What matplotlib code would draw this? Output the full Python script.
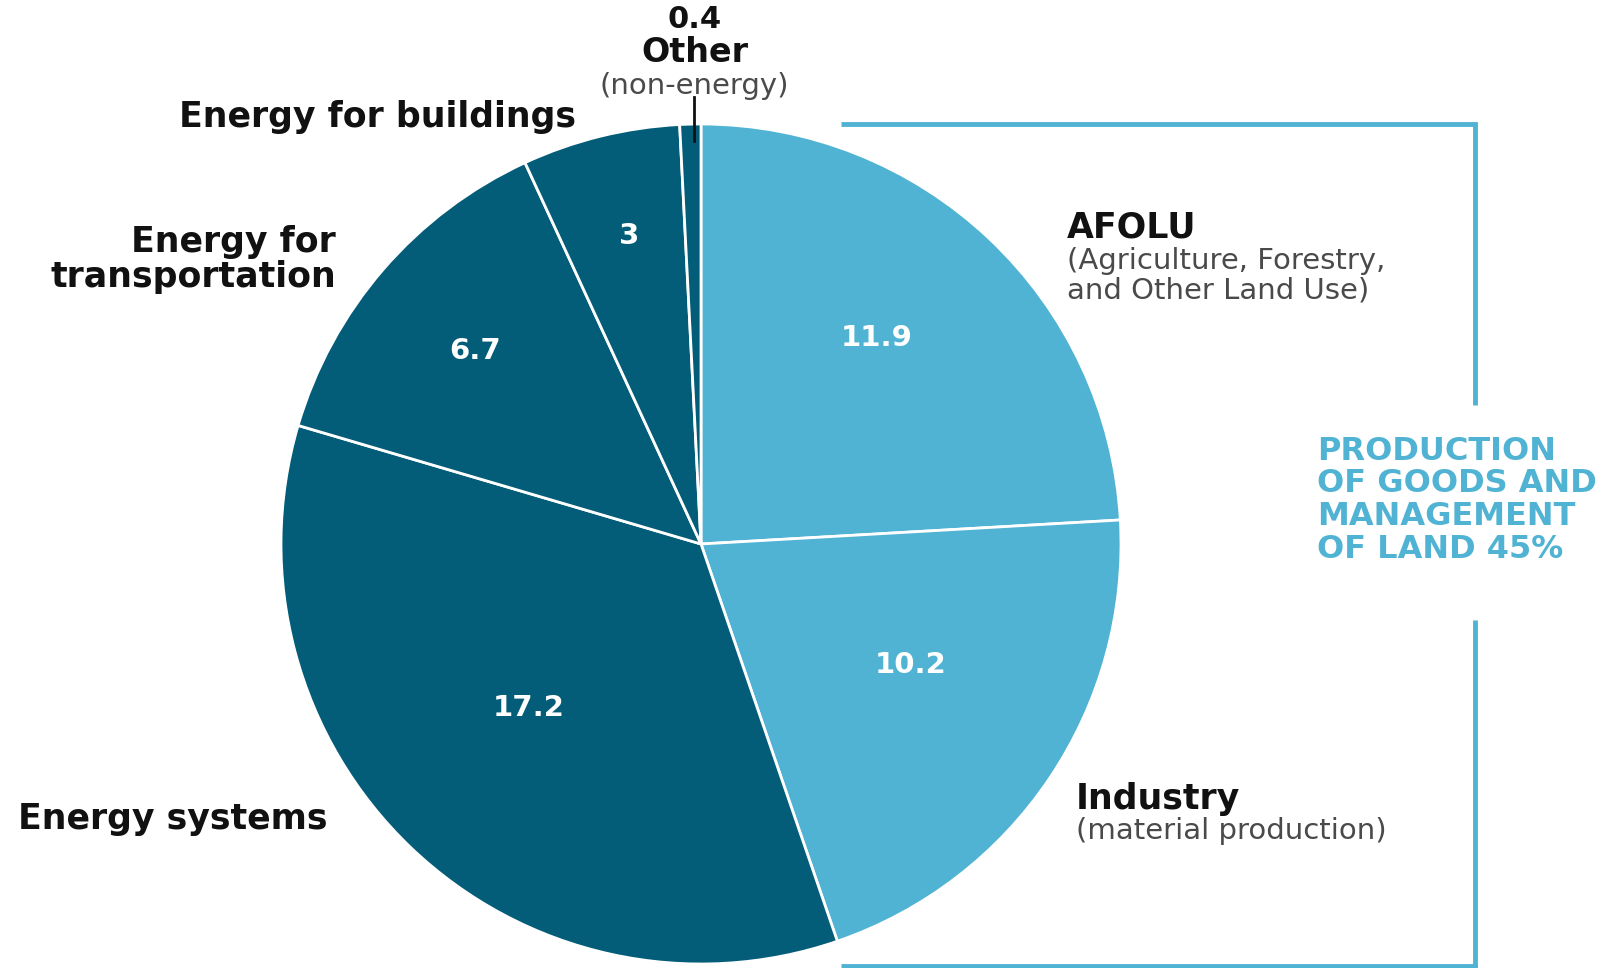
import matplotlib
matplotlib.use("Agg")
import matplotlib.pyplot as plt
import numpy as np

# ---- data ----
categories = ["AFOLU", "Industry", "Energy systems", "Energy for transportation",
              "Energy for buildings", "Other"]
values = [11.9, 10.2, 17.2, 6.7, 3, 0.4]
value_labels = ["11.9", "10.2", "17.2", "6.7", "3", "0.4"]
group_label = ["PRODUCTION", "OF GOODS AND", "MANAGEMENT", "OF LAND 45%"]

LIGHT = "#50B3D3"
DARK = "#035C78"
colors = [LIGHT, LIGHT, DARK, DARK, DARK, DARK]

W, H = 1608, 968
fig = plt.figure(figsize=(W / 100, H / 100), dpi=100)
ax = fig.add_axes([0, 0, 1, 1])

def Y(py):
    return H - py

cx, cy, R = 701, 544, 420
wedges, _ = ax.pie(values, colors=colors, startangle=90, counterclock=False,
                   center=(cx, Y(cy)), radius=R, frame=True,
                   wedgeprops=dict(edgecolor="white", linewidth=2))
ax.set_xlim(0, W)
ax.set_ylim(0, H)
ax.set_aspect("equal")
ax.axis("off")

# inside value labels (radial fraction, angular offset in degrees)
rfrac = [0.645, 0.577, 0.567, 0.707, 0.753]
aoff = [2.9, 4.0, -2.8, 0.3, -0.7]
for w, lab, rf, ao in zip(wedges[:5], value_labels[:5], rfrac, aoff):
    th = np.deg2rad((w.theta1 + w.theta2) / 2 + ao)
    ax.text(cx + rf * R * np.cos(th), Y(cy) + rf * R * np.sin(th), lab,
            color="white", fontsize=21, fontweight="bold", ha="center", va="center")

BOLD = dict(fontsize=25, fontweight="bold", color="#111111")
SUB = dict(fontsize=21, color="#4a4a4a")

# Other (top)
ax.text(695, Y(19), value_labels[5], ha="center", va="center", fontsize=22,
        fontweight="bold", color="#111111")
ax.text(695, Y(52), categories[5], ha="center", va="center", fontsize=24,
        fontweight="bold", color="#111111")
ax.text(694, Y(86), "(non-energy)", ha="center", va="center", **SUB)
ax.plot([694, 694], [Y(97), Y(141)], color="#111111", lw=2)

ax.text(576, Y(117), categories[4], ha="right", va="center", **BOLD)
ax.text(336, Y(242), "Energy for", ha="right", va="center", **BOLD)
ax.text(336, Y(277), "transportation", ha="right", va="center", **BOLD)
ax.text(18, Y(819), categories[2], ha="left", va="center", **BOLD)

ax.text(1067, Y(228), categories[0], ha="left", va="center", **BOLD)
ax.text(1067, Y(261), "(Agriculture, Forestry,", ha="left", va="center", **SUB)
ax.text(1067, Y(290), "and Other Land Use)", ha="left", va="center", **SUB)

ax.text(1076, Y(799), categories[1], ha="left", va="center", **BOLD)
ax.text(1076, Y(831), "(material production)", ha="left", va="center", **SUB)

# bracket
bx = 1475
ax.plot([841, bx, bx], [Y(124), Y(124), Y(405)], color=LIGHT, lw=3.5,
        solid_capstyle="butt", solid_joinstyle="miter")
ax.plot([bx, bx, 841], [Y(620), Y(966), Y(966)], color=LIGHT, lw=3.5,
        solid_capstyle="butt", solid_joinstyle="miter")

for i, line in enumerate(group_label):
    ax.text(1317, Y(451 + i * 32.7), line, ha="left", va="center",
            fontsize=23, fontweight="bold", color=LIGHT)

fig.savefig("out.png", dpi=100)
